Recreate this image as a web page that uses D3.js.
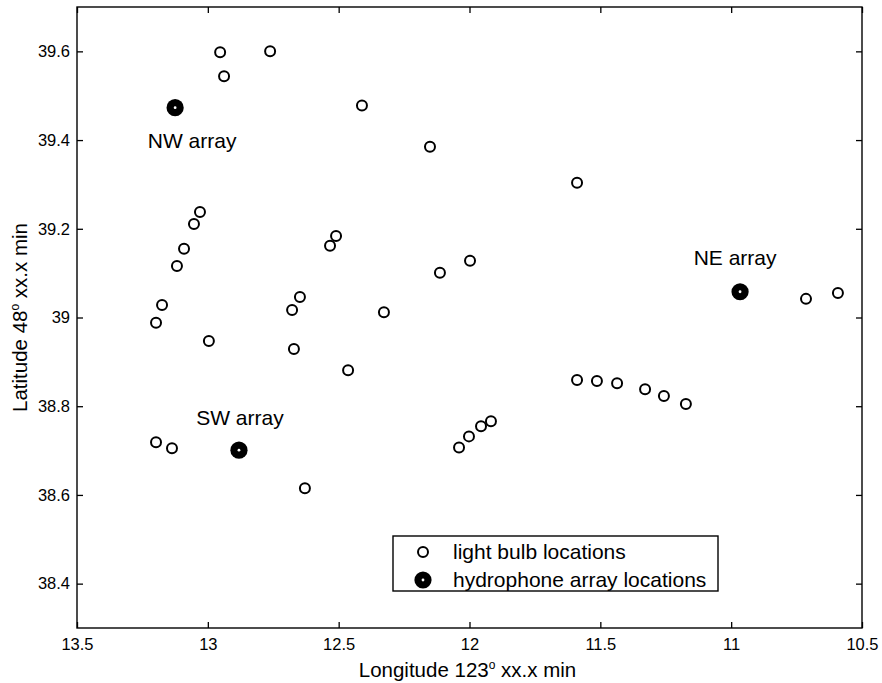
<!DOCTYPE html>
<html>
<head>
<meta charset="utf-8">
<script src="https://cdn.jsdelivr.net/npm/d3@7"></script>
<style>
  html, body { margin: 0; padding: 0; background: #fff; }
  svg { display: block; font-family: "Liberation Sans", Arial, Helvetica, sans-serif; }
</style>
</head>
<body>
<svg id="chart" width="882" height="683"></svg>
<script>
// Light bulb drop positions (longitude minutes, latitude minutes)
const bulbLon = [12.953, 12.762, 12.938, 12.411, 12.151, 11.589,
  13.030, 13.053, 13.091, 13.118, 13.175, 13.198, 12.996,
  12.510, 12.533, 12.648, 12.678, 12.671, 12.464, 12.327, 11.998, 12.113,
  11.589, 11.513, 11.436, 11.329, 11.257, 11.173,
  10.714, 10.592,
  13.198, 13.137, 12.629, 12.040, 12.002, 11.956, 11.918];
const bulbLat = [39.598, 39.600, 39.544, 39.478, 39.385, 39.304,
  39.238, 39.211, 39.155, 39.116, 39.028, 38.988, 38.947,
  39.184, 39.162, 39.046, 39.017, 38.929, 38.881, 39.012, 39.128, 39.101,
  38.859, 38.857, 38.852, 38.838, 38.823, 38.805,
  39.042, 39.055,
  38.719, 38.705, 38.615, 38.707, 38.732, 38.755, 38.766];

// Hydrophone arrays
const arrayNames = ["NW array", "SW array", "NE array"];
const arrayLon = [13.125, 12.881, 10.966];
const arrayLat = [39.473, 38.701, 39.058];

const xTicks = [13.5, 13, 12.5, 12, 11.5, 11, 10.5];
const yTicks = [38.4, 38.6, 38.8, 39, 39.2, 39.4, 39.6];
const legendLabels = ["light bulb locations", "hydrophone array locations"];

const W = 882, H = 683;
const margin = { top: 7, right: 20, bottom: 55, left: 77 };
const iw = W - margin.left - margin.right;
const ih = H - margin.top - margin.bottom;

const svg = d3.select("#chart");
const g = svg.append("g").attr("transform", `translate(${margin.left},${margin.top})`);

// Longitude decreases eastward, so the axis runs from 13.5 down to 10.5
const x = d3.scaleLinear().domain([13.5, 10.5]).range([0, iw]);
const y = d3.scaleLinear().domain([38.3, 39.7]).range([ih, 0]);

const fmt = d => String(d);
const tickLen = 6;

// Frame
g.append("rect").attr("x", 0).attr("y", 0).attr("width", iw).attr("height", ih)
  .attr("fill", "none").attr("stroke", "#000").attr("stroke-width", 1.4);

// Bottom and left axes with inward ticks
const xAxis = g.append("g").attr("transform", `translate(0,${ih})`)
  .call(d3.axisBottom(x).tickValues(xTicks).tickFormat(fmt).tickSizeInner(-tickLen).tickSizeOuter(0).tickPadding(10));
const yAxis = g.append("g")
  .call(d3.axisLeft(y).tickValues(yTicks).tickFormat(fmt).tickSizeInner(-tickLen).tickSizeOuter(0).tickPadding(7));
// Top and right axes: ticks only
const xTop = g.append("g")
  .call(d3.axisTop(x).tickValues(xTicks).tickFormat("").tickSizeInner(-tickLen).tickSizeOuter(0));
const yRight = g.append("g").attr("transform", `translate(${iw},0)`)
  .call(d3.axisRight(y).tickValues(yTicks).tickFormat("").tickSizeInner(-tickLen).tickSizeOuter(0));

[xAxis, yAxis, xTop, yRight].forEach(a => {
  a.select(".domain").remove();
  a.selectAll(".tick line").attr("stroke", "#000").attr("stroke-width", 1.3);
  a.selectAll("text").attr("fill", "#000").style("font-size", "16.5px")
    .style("font-family", "'Liberation Sans', Arial, sans-serif");
});

// Axis titles
const xt = svg.append("text")
  .attr("x", margin.left + iw / 2 - 2).attr("y", 677)
  .attr("text-anchor", "middle").style("font-size", "20.5px").attr("fill", "#000");
xt.append("tspan").text("Longitude 123");
xt.append("tspan").attr("dy", -8).style("font-size", "12px").text("o");
xt.append("tspan").attr("dy", 8).text(" xx.x min");

const yt = svg.append("text")
  .attr("transform", `translate(27,${margin.top + ih / 2}) rotate(-90)`)
  .attr("text-anchor", "middle").style("font-size", "20.5px").attr("fill", "#000");
yt.append("tspan").text("Latitude 48");
yt.append("tspan").attr("dy", -8).style("font-size", "12px").text("o");
yt.append("tspan").attr("dy", 8).text(" xx.x min");

// Light bulbs: open circles
g.append("g").selectAll("circle").data(bulbLon).join("circle")
  .attr("cx", d => x(d)).attr("cy", (d, i) => y(bulbLat[i]))
  .attr("r", 5).attr("fill", "#fff").attr("stroke", "#000").attr("stroke-width", 2);

// Hydrophone arrays: filled circle with a white centre
function hydrophone(sel, cx, cy) {
  sel.append("circle").attr("cx", cx).attr("cy", cy).attr("r", 8.6).attr("fill", "#000");
  sel.append("circle").attr("cx", cx).attr("cy", cy).attr("r", 1.4).attr("fill", "#fff");
}
const arr = g.append("g");
arrayLon.forEach((lon, i) => hydrophone(arr, x(lon), y(arrayLat[i])));

// Array labels
const labelOffset = [[17, 40], [1, -25], [-5, -27]];
arrayNames.forEach((name, i) => {
  g.append("text")
    .attr("x", x(arrayLon[i]) + labelOffset[i][0])
    .attr("y", y(arrayLat[i]) + labelOffset[i][1])
    .attr("text-anchor", "middle").style("font-size", "21px").attr("fill", "#000")
    .text(name);
});

// Legend
const lg = svg.append("g").attr("transform", "translate(393,536)");
lg.append("rect").attr("width", 325).attr("height", 55)
  .attr("fill", "#fff").attr("stroke", "#000").attr("stroke-width", 1.4);
lg.append("circle").attr("cx", 30).attr("cy", 16).attr("r", 5)
  .attr("fill", "#fff").attr("stroke", "#000").attr("stroke-width", 2);
hydrophone(lg, 30, 44);
legendLabels.forEach((t, i) => {
  lg.append("text").attr("x", 60).attr("y", 23 + i * 28)
    .style("font-size", "21px").attr("fill", "#000").text(t);
});
</script>
</body>
</html>
